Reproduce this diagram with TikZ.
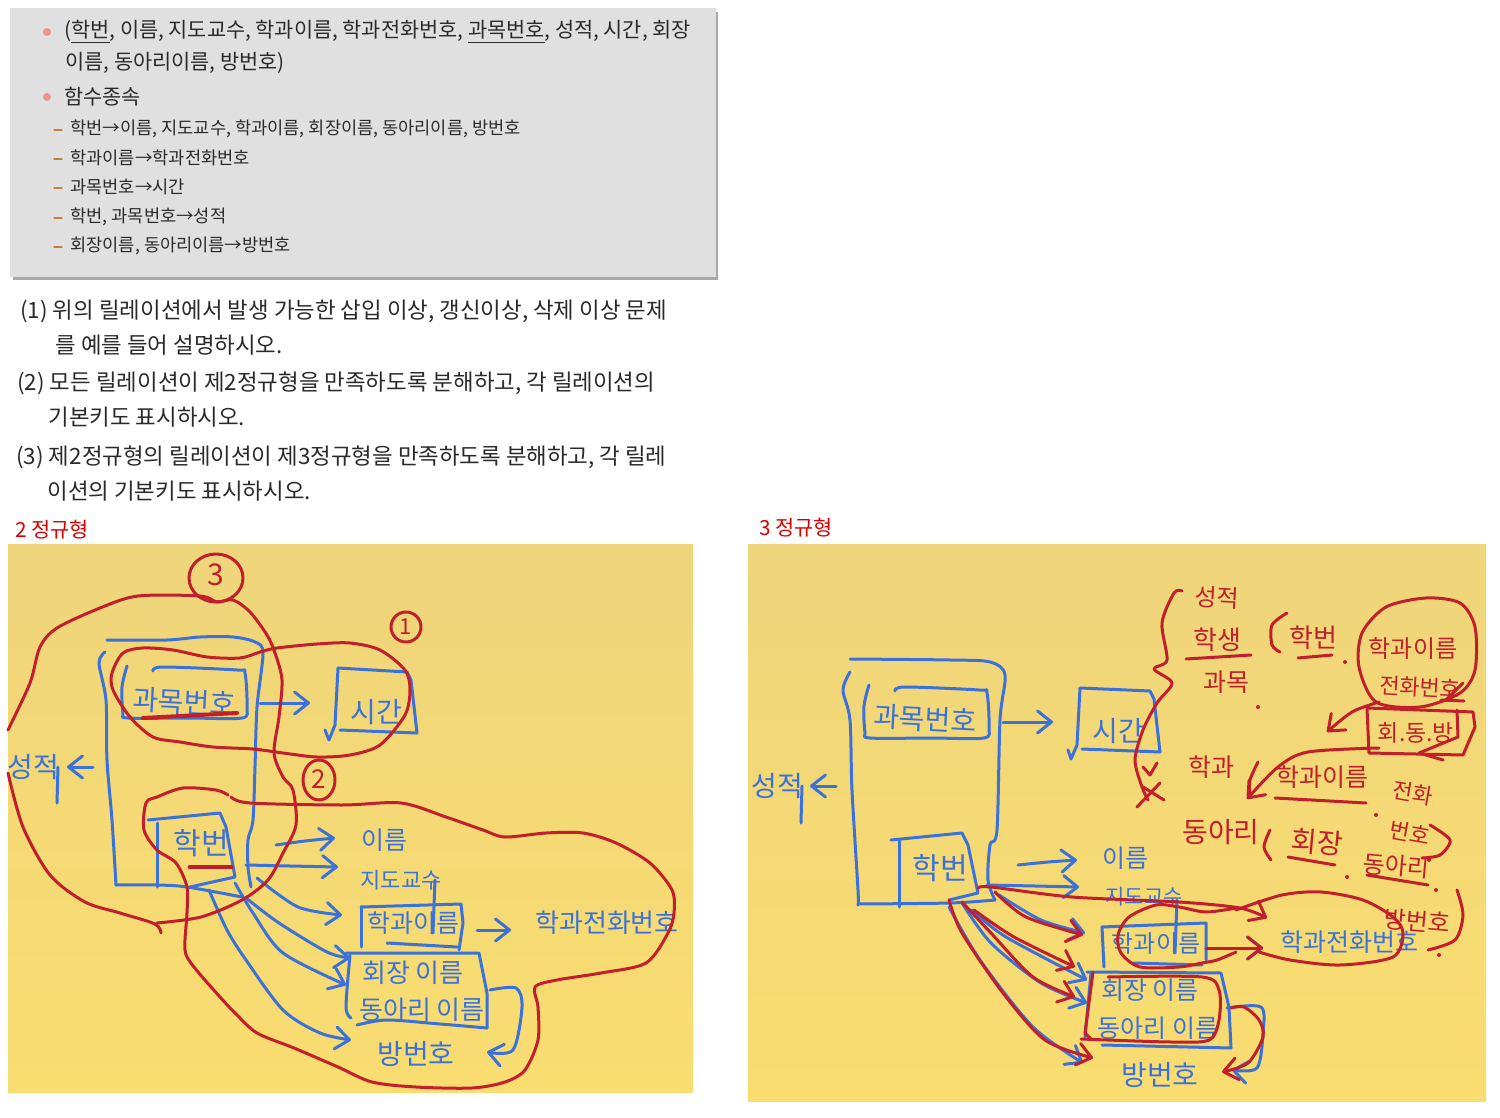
\documentclass[tikz,border=0pt]{standalone}
\usepackage{fontspec}
\setmainfont{Noto Sans CJK KR}
\usetikzlibrary{arrows.meta}
\definecolor{slidegray}{HTML}{E0E0E0}
\definecolor{shadowgray}{HTML}{A8A8A8}
\definecolor{padtop}{HTML}{EFD57B}
\definecolor{padbot}{HTML}{F9DD70}
\definecolor{bluepen}{HTML}{3B72D9}
\definecolor{redpen}{HTML}{C11F2B}
\definecolor{inktext}{HTML}{2A2A2A}
\newcommand{\fs}[1]{\fontsize{#1}{#1}\selectfont}

\begin{document}
\begin{tikzpicture}[
    x=0.5pt,
    y=-0.5pt,
    line cap=round,
    line join=round,
    blueline/.style={
      draw=bluepen,
      line width=1.5pt
    },
    redline/.style={
      draw=redpen,
      line width=1.5pt
    },
    barb/.style={
      -{Straight Barb[length=7pt,width=11pt,round]}
    },
    slideline/.style={
      anchor=west,
      inner sep=0pt,
      text=inktext,
      font=\fs{10.4}
    },
    subline/.style={
      anchor=west,
      inner sep=0pt,
      text=inktext,
      font=\fs{8.8}
    },
    askline/.style={
      anchor=west,
      inner sep=0pt,
      text=inktext,
      font=\fs{11.2}
    },
    bluehand/.style={
      inner sep=0pt,
      text=bluepen,
      font=\fs{#1}
    },
    redhand/.style={
      inner sep=0pt,
      text=redpen,
      font=\fs{#1}
    }
  ]
    \useasboundingbox (0,0) rectangle (1500,1118);
    \fill[white] (0,0) rectangle (1500,1118);

    % slide
    \fill[shadowgray] (13,12) rectangle (718,280);
    \fill[slidegray] (10,8) rectangle (716,277);
    \foreach \y in {32,97}
      \fill[red!35!slidegray] (47,\y) circle (4);
    \foreach \y in {129,158,187,217,246}
      \draw[orange!50!gray,line width=0.6pt] (54,\y+1) -- (62,\y+1);

    \node[slideline] (s1) at (64,32) {(\underline{학번}, 이름, 지도교수, 학과이름, 학과전화번호, \underline{과목번호}, 성적, 시간, 회장};
    \node[slideline] (s2) at (65,63) {이름, 동아리이름, 방번호)};
    \node[slideline] (s3) at (64,97) {함수종속};
    \node[subline] (s4) at (70,129) {학번→이름, 지도교수, 학과이름, 회장이름, 동아리이름, 방번호};
    \node[subline] (s5) at (70,158) {학과이름→학과전화번호};
    \node[subline] (s6) at (70,187) {과목번호→시간};
    \node[subline] (s7) at (70,217) {학번, 과목번호→성적};
    \node[subline] (s8) at (70,246) {회장이름, 동아리이름→방번호};

    \node[askline] (q1) at (20,311) {(1) 위의 릴레이션에서 발생 가능한 삽입 이상, 갱신이상, 삭제 이상 문제};
    \node[askline] (q1b) at (55,345) {를 예를 들어 설명하시오.};
    \node[askline] (q2) at (17,383) {(2) 모든 릴레이션이 제2정규형을 만족하도록 분해하고, 각 릴레이션의};
    \node[askline] (q2b) at (48,417) {기본키도 표시하시오.};
    \node[askline] (q3) at (16,457) {(3) 제2정규형의 릴레이션이 제3정규형을 만족하도록 분해하고, 각 릴레};
    \node[askline] (q3b) at (47,491) {이션의 기본키도 표시하시오.};

    \node[slideline,text=red!85!black] (nf2) at (15,530) {2 정규형};
    \node[slideline,text=red!85!black] (nf3) at (759,528) {3 정규형};

    % left pad
    \shade[top color=padtop,bottom color=padbot] (8,544) rectangle (693,1092);

    \node[bluehand=14,rotate=-3] (gwamok) at (184,702) {과목번호};
    \node[bluehand=14] (sigan) at (376,712) {시간};
    \node[bluehand=14] (seongjeok) at (33,767) {성적};
    \node[bluehand=15] (hakbun) at (201,843) {학번};
    \node[bluehand=12.5] (ireum) at (384,840) {이름};
    \node[bluehand=11] (jido) at (401,880) {지도교수};
    \node[bluehand=12.5] (hakgwa) at (413,923) {학과이름};
    \node[bluehand=13] (jeonhwa) at (607,923) {학과전화번호};
    \node[bluehand=13] (hoejang) at (413,973) {회장 이름};
    \node[bluehand=13] (dongari) at (422,1010) {동아리 이름};
    \node[bluehand=14] (bang) at (416,1054) {방번호};

    % box outlines
    \draw[blueline] plot[smooth] coordinates {(107,640) (167,640) (200,637) (233,637) (255,642) (263,653) (257,707) (255,767) (253,820) (248,840) (248,867) (251,887)};
    \draw[blueline] plot[smooth] coordinates {(105,652) (99,663) (106,700) (107,760) (112,820) (116,885)};
    \draw[blueline] plot[smooth] coordinates {(116,885) (157,885) (187,887) (242,897)};
    \draw[blueline] plot[smooth] coordinates {(127,666) (122,687) (123,713) (128,718) (190,718) (242,718) (247,707) (245,673) (237,670) (163,667) (153,671)};
    \draw[blueline] (338,668) -- (407,672) -- (411,680) -- (417,733) -- (340,730);
    \draw[blueline] (338,668) -- (335,725) -- (329,740) -- (325,730);
    \draw[blueline] (58,767) -- (57,803);
    \draw[blueline] (148,820) -- (220,813) -- (226,827) -- (235,877) -- (190,887);
    \draw[blueline] (157,823) -- (157,887);
    \draw[blueline] (361,907) -- (461,904) -- (463,923) -- (459,950);
    \draw[blueline] (361,907) -- (361,947);
    \draw[blueline] (387,943) -- (457,947);
    \draw[blueline] (435,880) -- (433,933);
    \draw[blueline] plot[smooth] coordinates {(350,955) (346,1007) (351,1018)};
    \draw[blueline] (346,953) -- (479,953) -- (487,993) -- (487,1028);
    \draw[blueline] plot[smooth] coordinates {(357,1025) (387,1020) (440,1024) (487,1028)};

    % blue arrows
    \coordinate (ga) at (260,703);
    \coordinate (gb) at (310,703);
    \draw[blueline,barb] (ga) -- (gb);
    \coordinate (sa) at (93,767);
    \coordinate (sb) at (67,767);
    \draw[blueline,barb] (sa) -- (sb);
    \coordinate (ta) at (477,930);
    \coordinate (tb) at (511,930);
    \draw[blueline,barb] (ta) -- (tb);
    \draw[blueline,barb] plot[smooth] coordinates {(276,845) (305,841) (335,838)};
    \draw[blueline,barb] plot[smooth] coordinates {(246,865) (290,866) (338,867)};
    \draw[blueline,barb] plot[smooth] coordinates {(257,878) (298,907) (342,915)};
    \draw[blueline,barb] plot[smooth] coordinates {(246,898) (279,923) (327,952) (350,958)};
    \draw[blueline,barb] plot[smooth] coordinates {(235,883) (253,913) (283,953) (346,985)};
    \draw[blueline,barb] plot[smooth] coordinates {(209,890) (227,930) (246,960) (283,1010) (320,1033) (351,1040)};
    \draw[blueline,barb] plot[smooth] coordinates {(490,990) (516,988) (522,1007) (513,1050) (487,1052)};

    % red groups
    \draw[redline] plot[smooth] coordinates {(8,730) (30,683) (40,647) (57,628) (100,608) (138,596) (200,596) (217,602) (233,600) (250,612) (267,635) (275,653) (282,680) (279,717) (274,753) (283,777) (293,790) (296,825) (283,853) (268,880) (242,900) (201,917) (157,923)};
    \draw[redline] plot[smooth] coordinates {(8,773) (23,827) (50,875) (85,902) (120,913) (155,924) (161,933)};
    \draw[redline] plot[smooth cycle] coordinates {(112,673) (123,653) (143,648) (173,650) (207,657) (240,658) (260,652) (277,648) (317,644) (350,643) (380,650) (405,670) (410,690) (405,715) (380,745) (350,755) (317,757) (283,753) (253,749) (213,747) (180,742) (153,737) (130,717) (113,690)};
    \draw[redline] plot[smooth] coordinates {(231,797) (250,803) (342,805) (401,803) (446,817) (483,830) (505,837) (546,833) (583,833) (616,843) (650,863) (672,890) (674,913) (668,933) (646,963) (601,973) (557,980) (535,987) (538,1007) (538,1040) (525,1070) (505,1082) (472,1088) (416,1087) (372,1082) (338,1067) (294,1048) (257,1033) (235,1013) (220,997) (194,967) (185,950) (187,913) (187,887) (176,863) (157,850) (144,830) (146,803) (157,797) (183,788) (216,790) (228,795)};
    \draw[redline,line width=2pt] (143,718) -- (237,713);
    \draw[redline,line width=2.4pt] (190,867) -- (231,867);

    \draw[redline] (216,578) ellipse (27 and 24);
    \node[redhand=15] (m3) at (216,575) {3};
    \draw[redline] (406,627) ellipse (15 and 15);
    \node[redhand=11] (m1) at (406,627) {1};
    \draw[redline] (319,780) ellipse (16 and 20);
    \node[redhand=13] (m2) at (319,779) {2};

    % right pad
    \shade[top color=padtop,bottom color=padbot] (748,544) rectangle (1486,1101);

    \node[bluehand=14,rotate=-3] (gwamokR) at (925,719) {과목번호};
    \node[bluehand=14] (siganR) at (1118,731) {시간};
    \node[bluehand=14] (seongjeokR) at (777,786) {성적};
    \node[bluehand=15] (hakbunR) at (940,868) {학번};
    \node[bluehand=12.5] (ireumR) at (1125,858) {이름};
    \node[bluehand=10.5] (jidoR) at (1144,897) {지도교수};
    \node[bluehand=12] (hakgwaR) at (1156,943) {학과이름};
    \node[bluehand=12.5] (jeonhwaR) at (1349,942) {학과전화번호};
    \node[bluehand=12.5] (hoejangR) at (1150,990) {회장 이름};
    \node[bluehand=12.5] (dongariR) at (1158,1028) {동아리 이름};
    \node[bluehand=14] (bangR) at (1160,1075) {방번호};

    \draw[blueline] plot[smooth] coordinates {(850,659) (950,660) (990,662) (1005,675) (1000,720) (997,830) (990,845) (988,880) (995,900)};
    \draw[blueline] plot[smooth] coordinates {(850,672) (843,690) (850,720) (852,790) (858,890) (858,905)};
    \draw[blueline] plot[smooth] coordinates {(858,904) (950,903) (995,900)};
    \draw[blueline] plot[smooth] coordinates {(869,685) (864,706) (865,732) (870,738) (932,738) (984,738) (989,727) (987,693) (979,690) (905,687) (895,691)};
    \draw[blueline] (1080,688) -- (1150,691) -- (1154,699) -- (1160,752) -- (1082,749);
    \draw[blueline] (1080,688) -- (1077,745) -- (1071,759) -- (1068,750);
    \draw[blueline] (802,786) -- (801,823);
    \draw[blueline] (891,840) -- (962,833) -- (968,845) -- (978,893) -- (949,900);
    \draw[blueline] (899,840) -- (899,907);
    \draw[blueline] (1102,927) -- (1206,923) -- (1206,960);
    \draw[blueline] (1102,927) -- (1104,967);
    \draw[blueline] (1133,963) -- (1202,965);
    \draw[blueline] (1177,900) -- (1175,953);
    \draw[blueline] (1091,973) -- (1085,1037);
    \draw[blueline] (1087,972) -- (1221,973) -- (1229,1007) -- (1231,1048);
    \draw[blueline] (1102,1045) -- (1231,1048);

    \coordinate (gaR) at (1003,722);
    \coordinate (gbR) at (1053,722);
    \draw[blueline,barb] (gaR) -- (gbR);
    \coordinate (saR) at (836,786);
    \coordinate (sbR) at (810,786);
    \draw[blueline,barb] (saR) -- (sbR);
    \coordinate (taR) at (1206,948);
    \coordinate (tbR) at (1263,948);
    \draw[blueline,barb] (taR) -- (tbR);
    \draw[blueline,barb] plot[smooth] coordinates {(1018,865) (1048,862) (1077,860)};
    \draw[blueline,barb] plot[smooth] coordinates {(987,885) (1035,886) (1079,887)};
    \draw[blueline,barb] plot[smooth] coordinates {(999,895) (1041,920) (1085,933)};
    \draw[blueline,barb] plot[smooth] coordinates {(972,910) (1006,937) (1087,980)};
    \draw[blueline,barb] plot[smooth] coordinates {(962,903) (991,943) (1041,983) (1087,1003)};
    \draw[blueline,barb] plot[smooth] coordinates {(949,907) (980,960) (1033,1027) (1083,1063)};
    \draw[blueline,barb] plot[smooth] coordinates {(1227,1008) (1261,1007) (1263,1033) (1257,1068) (1232,1070)};

    % red over the right pad
    \draw[redline,barb] plot[smooth] coordinates {(978,888) (991,887) (1072,897) (1179,902) (1240,908) (1267,918)};
    \draw[redline,barb] plot[smooth] coordinates {(995,892) (1026,917) (1083,935)};
    \draw[redline,barb] plot[smooth] coordinates {(974,910) (1014,937) (1075,967)};
    \draw[redline,barb] plot[smooth] coordinates {(962,902) (991,933) (1033,977) (1075,997)};
    \draw[redline,barb] plot[smooth] coordinates {(949,900) (962,933) (1003,993) (1045,1040) (1093,1058)};
    \draw[redline,barb] (taR) -- (tbR);
    \draw[redline,barb] plot[smooth] coordinates {(1231,1008) (1244,1007) (1259,1020) (1263,1037) (1248,1063) (1222,1072)};
    \draw[redline] plot[smooth] coordinates {(1236,908) (1206,912) (1179,907) (1156,905) (1129,917) (1118,935) (1121,953) (1140,967) (1179,967) (1202,963) (1217,960) (1236,952)};
    \draw[redline] plot[smooth] coordinates {(1236,910) (1282,895) (1321,892) (1363,900) (1393,917) (1403,933) (1393,957) (1340,965) (1290,960) (1259,952)};
    \draw[redline] plot[smooth] coordinates {(1108,977) (1202,977) (1219,990) (1219,1020) (1209,1040) (1171,1042) (1081,1039)};
    \draw[redline] (1093,972) -- (1085,1033) -- (1092,1040);

    % notes
    \draw[redline] plot[smooth] coordinates {(1182,591) (1174,593) (1162,623) (1167,660) (1154,669) (1172,683) (1157,703) (1143,730) (1135,760) (1142,787) (1148,800)};
    \draw[redline] (1143,767) -- (1150,775) -- (1157,763);
    \draw[redline] (1137,807) -- (1160,783);
    \draw[redline] (1143,787) -- (1164,800);

    \node[redhand=12,rotate=-3] (nA) at (1217,598) {성적};
    \node[redhand=13] (nB) at (1217,640) {학생};
    \node[redhand=12.5] (nC) at (1226,682) {과목};
    \node[redhand=13] (nD) at (1313,638) {학번};
    \node[redhand=12] (nE) at (1413,648) {학과이름};
    \node[redhand=11,rotate=-3] (nF) at (1420,687) {전화번호};
    \node[redhand=11.5] (nG) at (1416,733) {회.동.방};
    \node[redhand=12.5] (nH) at (1211,767) {학과};
    \node[redhand=12.5] (nI) at (1322,777) {학과이름};
    \node[redhand=11,rotate=-10] (nJ) at (1413,793) {전화};
    \node[redhand=11,rotate=-10] (nK) at (1410,833) {번호};
    \node[redhand=14] (nL) at (1221,832) {동아리};
    \node[redhand=14,rotate=-5] (nM) at (1317,842) {회장};
    \node[redhand=12,rotate=-5] (nN) at (1396,866) {동아리};
    \node[redhand=12,rotate=-5] (nO) at (1417,921) {방번호};

    \draw[redline] (1186,659) -- (1251,655);
    \draw[redline] (1298,658) -- (1332,655);
    \draw[redline] plot[smooth] coordinates {(1287,613) (1272,625) (1272,645) (1280,652)};
    \draw[redline] plot[smooth] coordinates {(1258,762) (1250,780) (1250,795)};
    \draw[redline] plot[smooth] coordinates {(1270,830) (1264,847) (1271,860)};
    \draw[redline] (1275,798) -- (1366,803);
    \draw[redline] (1288,857) -- (1335,865);
    \draw[redline] (1367,875) -- (1428,885);
    \draw[redline] plot[smooth] coordinates {(1430,825) (1450,840) (1440,855) (1422,858)};
    \draw[redline] plot[smooth] coordinates {(1457,890) (1463,915) (1455,940) (1428,950)};
    \foreach \x/\y in {1258/707,1345/662,1376/815,1347/877,1436/890,1439/955,1429/860}
      \fill[redpen] (\x,\y) circle (2);

    \draw[redline] plot[smooth cycle] coordinates {(1359,667) (1362,633) (1386,607) (1426,598) (1460,603) (1475,627) (1475,670) (1460,693) (1420,707) (1376,702)};
    \draw[redline] (1446,700) -- (1463,683);
    \draw[redline] (1441,700) -- (1464,701);
    \draw[redline,barb] plot[smooth] coordinates {(1379,702) (1352,712) (1327,732)};
    \draw[redline] (1367,708) -- (1473,712) -- (1475,727) -- (1463,755) -- (1369,753) -- cycle;
    \draw[redline] (1457,710) -- (1458,737) -- (1419,753);
    \draw[redline] (1419,753) -- (1443,760);
    \draw[redline,barb] plot[smooth] coordinates {(1379,748) (1308,752) (1278,767) (1247,799)};
  \end{tikzpicture}
\end{document}
